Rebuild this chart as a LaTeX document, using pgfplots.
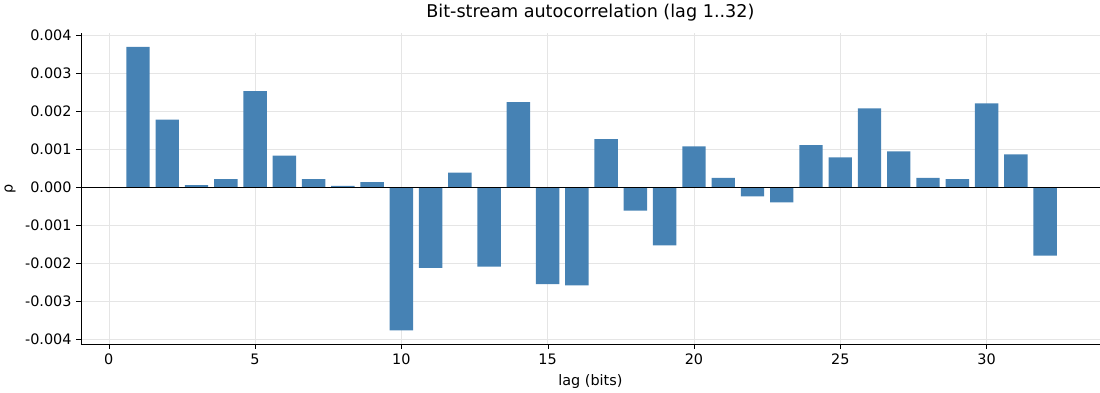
\documentclass[border=0pt]{standalone}
\usepackage{pgfplots}
\pgfplotsset{compat=1.18}
\usepackage{fontspec}
\setmainfont{DejaVu Sans}
\definecolor{bar}{HTML}{4682B4}
\begin{document}
\fontsize{13}{15}\selectfont
\begin{tikzpicture}
\begin{axis}[
  scale only axis, width=955pt, height=292pt,
  xmin=-0.95, xmax=33.87, ymin=-0.00413, ymax=0.00405,
  axis x line*=bottom, axis y line*=left,
  xtick={0,5,...,30}, ytick={-0.004,-0.003,...,0.004},
  grid=major, grid style={gray!20},
  tick align=outside, tick style={black},
  yticklabel style={/pgf/number format/.cd,fixed,fixed zerofill,precision=3},
  scaled y ticks=false,
  /pgf/number format/assume math mode=true,
  ticklabel style={font=\fontsize{13.5}{15}\selectfont},
  title={Bit-stream autocorrelation (lag 1..32)},
  title style={font=\fontsize{16.5}{18}\selectfont},
  xlabel={lag (bits)}, ylabel={ρ},
  label style={font=\fontsize{13.5}{15}\selectfont},
]
\addplot[ybar, bar width=0.8, bar shift=0pt, fill=bar, draw=none] coordinates {
(1,0.00368)(2,0.00177)(3,0.00005)(4,0.00021)(5,0.00252)(6,0.00083)(7,0.00021)(8,0.00003)
(9,0.00013)(10,-0.00376)(11,-0.00212)(12,0.00038)(13,-0.00209)(14,0.00223)(15,-0.00255)(16,-0.00258)
(17,0.00126)(18,-0.00062)(19,-0.00153)(20,0.00107)(21,0.00024)(22,-0.00024)(23,-0.00040)(24,0.00110)
(25,0.00078)(26,0.00207)(27,0.00094)(28,0.00024)(29,0.00021)(30,0.00220)(31,0.00086)(32,-0.00180)};
\draw[black, line width=0.8pt] (axis cs:-0.95,0) -- (axis cs:33.87,0);
\end{axis}
\end{tikzpicture}
\end{document}
